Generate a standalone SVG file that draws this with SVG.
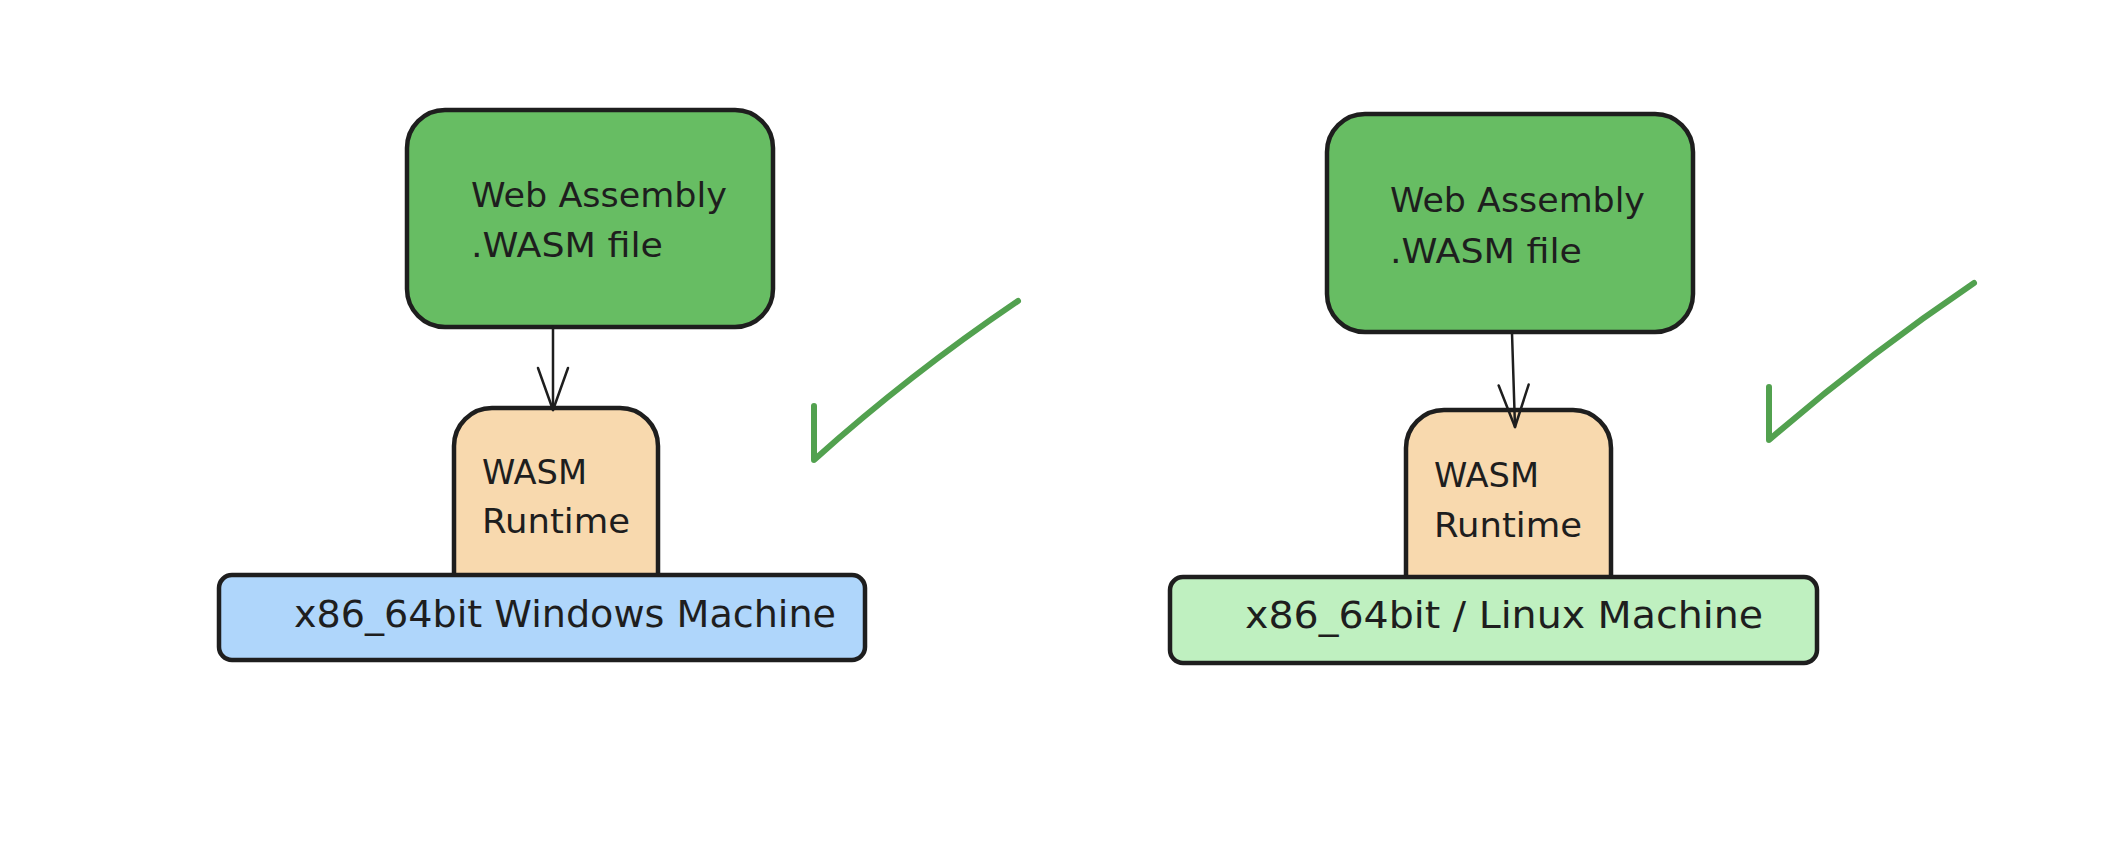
<svg xmlns="http://www.w3.org/2000/svg" width="2102" height="858" viewBox="0 0 2102 858">
<style>
  .box { stroke: #1e1e1e; stroke-width: 4.5; stroke-linejoin: round; }
  .wasm { fill: #67bd63; }
  .rt { fill: #f8d9ae; }
  .win { fill: #afd6fb; }
  .lin { fill: #bff0c0; }
  .t { font-family: "DejaVu Sans", "Liberation Sans", sans-serif; fill: #1e1e1e; }
  .t34 { font-size: 34px; }
  .t38 { font-size: 38px; }
  .conn { stroke: #1e1e1e; stroke-width: 2.5; fill: none; stroke-linecap: round; }
  .check { stroke: #52a14f; stroke-width: 6; fill: none; stroke-linecap: round; stroke-linejoin: round; }
</style>
<defs>
  <marker id="arrow" markerUnits="userSpaceOnUse" orient="auto" refX="0" refY="0" markerWidth="60" markerHeight="60" viewBox="-50 -25 60 50" overflow="visible">
    <path d="M-42,-15 L0,0 L-42,15" fill="none" stroke="#1e1e1e" stroke-width="2.5" stroke-linecap="round" stroke-linejoin="round"/>
  </marker>
</defs>
<rect width="2102" height="858" fill="#ffffff"/>

<g id="left-wasm-file">
  <rect class="box wasm" x="407" y="110" width="366" height="217" rx="38"/>
  <text class="t t34" x="471" y="207" textLength="256" lengthAdjust="spacingAndGlyphs">Web Assembly</text>
  <text class="t t34" x="471" y="257" textLength="192" lengthAdjust="spacingAndGlyphs">.WASM file</text>
</g>

<g id="left-runtime">
  <rect class="box rt" x="454" y="408" width="204" height="230" rx="38"/>
  <text class="t t34" x="482" y="484" textLength="105" lengthAdjust="spacingAndGlyphs">WASM</text>
  <text class="t t34" x="482" y="533" textLength="148" lengthAdjust="spacingAndGlyphs">Runtime</text>
</g>

<g id="left-machine">
  <rect class="box win" x="219" y="575" width="646" height="85" rx="13"/>
  <text class="t t38" x="294" y="627" textLength="542" lengthAdjust="spacingAndGlyphs">x86_64bit Windows Machine</text>
</g>

<g id="right-wasm-file">
  <rect class="box wasm" x="1327" y="114" width="366" height="218" rx="38"/>
  <text class="t t34" x="1390" y="212" textLength="255" lengthAdjust="spacingAndGlyphs">Web Assembly</text>
  <text class="t t34" x="1390" y="263" textLength="192" lengthAdjust="spacingAndGlyphs">.WASM file</text>
</g>

<g id="right-runtime">
  <rect class="box rt" x="1406" y="410" width="205" height="230" rx="38"/>
  <text class="t t34" x="1434" y="487" textLength="105" lengthAdjust="spacingAndGlyphs">WASM</text>
  <text class="t t34" x="1434" y="537" textLength="148" lengthAdjust="spacingAndGlyphs">Runtime</text>
</g>

<g id="right-machine">
  <rect class="box lin" x="1170" y="577" width="647" height="86" rx="13"/>
  <text class="t t38" x="1245" y="628" textLength="518" lengthAdjust="spacingAndGlyphs">x86_64bit / Linux Machine</text>
</g>

<g id="connectors">
  <path class="conn" d="M553,327 L553,410" marker-end="url(#arrow)"/>
  <path class="conn" d="M1512,333 L1515,427" marker-end="url(#arrow)"/>
</g>

<g id="left-check">
  <path class="check" d="M814,406 L814,460 Q910,374 1018,301"/>
</g>
<g id="right-check">
  <path class="check" d="M1769,387 L1769,440 Q1866,356 1974,283"/>
</g>
</svg>
